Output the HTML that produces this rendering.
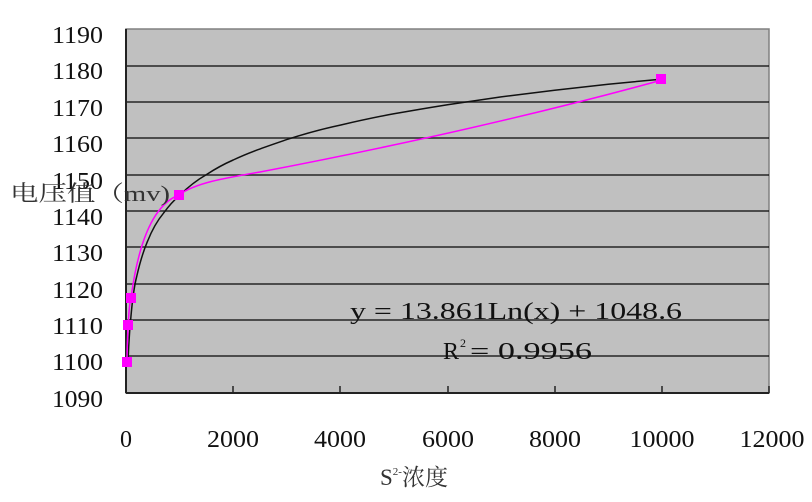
<!DOCTYPE html>
<html><head><meta charset="utf-8"><style>
html,body{margin:0;padding:0;background:#fff;width:812px;height:502px;overflow:hidden}
</style></head><body>
<svg width="812" height="502" xmlns="http://www.w3.org/2000/svg" font-family="'Liberation Serif','Noto Serif CJK SC',serif">
<rect x="126" y="29" width="643" height="364" fill="#c0c0c0" stroke="#808080" stroke-width="1.5"/>
<g stroke="#000" stroke-width="1.5" opacity="0.8">
<line x1="126" x2="769" y1="66" y2="66"/>
<line x1="126" x2="769" y1="102" y2="102"/>
<line x1="126" x2="769" y1="138" y2="138"/>
<line x1="126" x2="769" y1="175" y2="175"/>
<line x1="126" x2="769" y1="211" y2="211"/>
<line x1="126" x2="769" y1="247" y2="247"/>
<line x1="126" x2="769" y1="284" y2="284"/>
<line x1="126" x2="769" y1="320" y2="320"/>
<line x1="126" x2="769" y1="356" y2="356"/>
</g>
<line x1="126" x2="769" y1="393" y2="393" stroke="#222" stroke-width="2"/>
<line x1="126" x2="126" y1="29" y2="393" stroke="#222" stroke-width="2"/>
<g stroke="#222" stroke-width="1.5">
<line x1="233" x2="233" y1="386" y2="393"/><line x1="340" x2="340" y1="386" y2="393"/>
<line x1="448" x2="448" y1="386" y2="393"/><line x1="555" x2="555" y1="386" y2="393"/>
<line x1="662" x2="662" y1="386" y2="393"/><line x1="769" x2="769" y1="386" y2="393"/>
</g>
<path fill="none" stroke="#111" stroke-width="1.5" d="M127.9,364.2 C128.3,355 128.5,350 128.7,346.4 C129.5,330 130.5,320 131.4,311.5 C133,295 134.5,285 136.7,276.5 C140,262 143,252 147.4,241.6 C152,230 157,221 163.5,213.2 C168,207 173,201 179.6,195.3 C188,187 197,180 206.4,174.6 C215,169 224,164 233.2,160 C250,152 268,146 286.7,139.6 C304,134 322,129 340.3,125.1 C358,121 376,117 393.9,113.8 C412,110.5 430,107.5 447.5,104.7 C465,102 483,99.4 501.1,96.9 C519,94.5 537,92.3 554.6,90.2 C572,88.2 590,86.2 608.2,84.3 C626,82.5 644,80.8 661.8,79.1"/>
<path d="M127,362 C127,345 128,332 128,325 C129,315 129,305 131,298 C138,245 152,205 179,195 C195,183 225,178 260,172 Q480,130 662,80" fill="none" stroke="#ff00ff" stroke-width="1.5"/>
<g fill="#ff00ff">
<rect x="122" y="357" width="10" height="10"/><rect x="123" y="320" width="10" height="10"/>
<rect x="126" y="293" width="10" height="10"/><rect x="174" y="190" width="10" height="10"/>
<rect x="656" y="74" width="10" height="10"/>
</g>
<g font-size="24" fill="#111" text-anchor="end">
<text x="103" y="43" textLength="51" lengthAdjust="spacingAndGlyphs">1190</text>
<text x="103" y="79" textLength="51" lengthAdjust="spacingAndGlyphs">1180</text>
<text x="103" y="116" textLength="51" lengthAdjust="spacingAndGlyphs">1170</text>
<text x="103" y="152" textLength="51" lengthAdjust="spacingAndGlyphs">1160</text>
<text x="103" y="189" textLength="51" lengthAdjust="spacingAndGlyphs">1150</text>
<text x="103" y="225" textLength="51" lengthAdjust="spacingAndGlyphs">1140</text>
<text x="103" y="261" textLength="51" lengthAdjust="spacingAndGlyphs">1130</text>
<text x="103" y="298" textLength="51" lengthAdjust="spacingAndGlyphs">1120</text>
<text x="103" y="334" textLength="51" lengthAdjust="spacingAndGlyphs">1110</text>
<text x="103" y="370" textLength="51" lengthAdjust="spacingAndGlyphs">1100</text>
<text x="103" y="407" textLength="51" lengthAdjust="spacingAndGlyphs">1090</text>
</g>
<g font-size="24" fill="#111" text-anchor="middle">
<text x="126" y="447">0</text>
<text x="233" y="447" textLength="52" lengthAdjust="spacingAndGlyphs">2000</text>
<text x="340" y="447" textLength="52" lengthAdjust="spacingAndGlyphs">4000</text>
<text x="448" y="447" textLength="52" lengthAdjust="spacingAndGlyphs">6000</text>
<text x="555" y="447" textLength="52" lengthAdjust="spacingAndGlyphs">8000</text>
<text x="662" y="447" textLength="65" lengthAdjust="spacingAndGlyphs">10000</text>
<text x="772" y="447" textLength="65" lengthAdjust="spacingAndGlyphs">12000</text>
</g>
<text x="10" y="201" font-size="22" fill="#333" textLength="160" lengthAdjust="spacingAndGlyphs">电压值（mv)</text>
<text x="380" y="485" font-size="23" fill="#333">S<tspan font-size="11" dy="-10">2-</tspan><tspan dy="10">浓度</tspan></text>
<text x="350" y="319" font-size="24" fill="#111" textLength="332" lengthAdjust="spacingAndGlyphs">y = 13.861Ln(x) + 1048.6</text>
<text x="443" y="359" font-size="24" fill="#111">R</text>
<text x="460" y="347" font-size="12" fill="#111">2</text>
<text x="470" y="359" font-size="24" fill="#111" textLength="122" lengthAdjust="spacingAndGlyphs">= 0.9956</text>
</svg>
</body></html>
